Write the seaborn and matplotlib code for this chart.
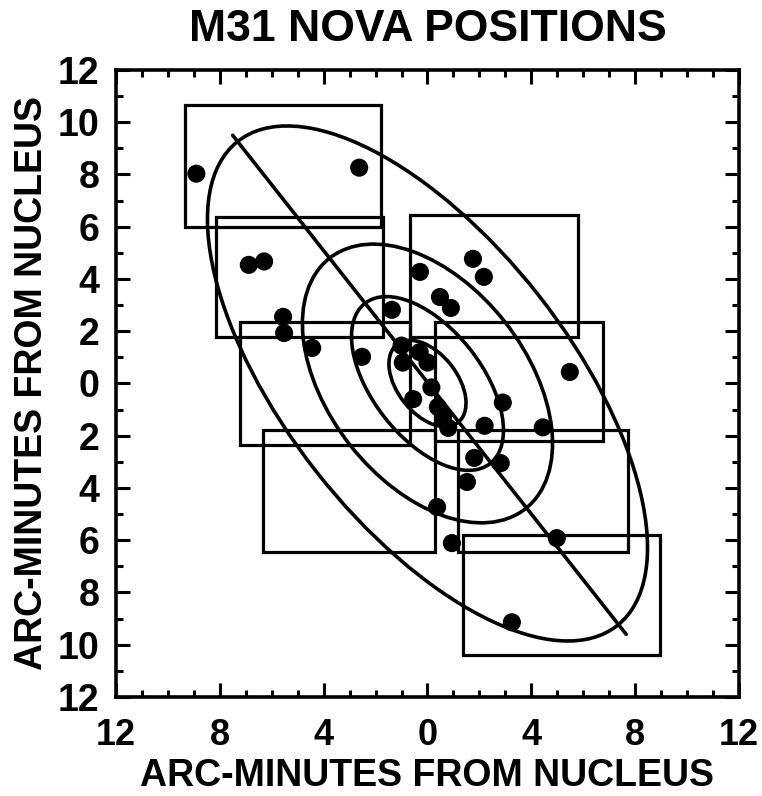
import numpy as np
import pandas as pd
import matplotlib
matplotlib.use("Agg")
import matplotlib.pyplot as plt
import seaborn as sns
from matplotlib.patches import Ellipse, Rectangle
from matplotlib.ticker import MultipleLocator, FuncFormatter

# ---------------- data ----------------
title = "M31 NOVA POSITIONS"
xlabel = "ARC-MINUTES FROM NUCLEUS"
ylabel = "ARC-MINUTES FROM NUCLEUS"

nova_x = [-8.9, -2.63, -6.88, -6.29, -5.56, -5.52, -4.44, -2.52, -1.37,
          -0.29, 1.75, 2.17, 0.48, 0.9, 5.48, 2.9, 2.2, 4.44, 1.8, 2.82,
          1.52, 0.37, 0.94, 4.98, 3.25,
          -1.0, -0.95, -0.3, 0.0, -0.55, 0.15, 0.4, 0.6, 0.8]
nova_y = [8.03, 8.26, 4.54, 4.67, 2.55, 1.93, 1.36, 1.02, 2.82,
          4.27, 4.77, 4.08, 3.31, 2.89, 0.44, -0.73, -1.62, -1.68, -2.85, -3.05,
          -3.77, -4.73, -6.11, -5.92, -9.14,
          1.45, 0.8, 1.2, 0.8, -0.6, -0.15, -0.9, -1.3, -1.7]

field_x0 = [-9.33, -8.13, -0.67, -7.21, 0.29, -6.33, 1.17, 1.37]
field_x1 = [-1.79, -1.71, 5.79, -0.67, 6.75, 0.29, 7.71, 8.94]
field_y0 = [6.0, 1.78, 1.78, -2.36, -2.2, -6.45, -6.45, -10.4]
field_y1 = [10.67, 6.38, 6.45, 2.36, 2.36, -1.78, -1.78, -5.8]

ell_a = [11.8, 6.1, 3.9, 1.9]
ell_b = [5.45, 3.8, 2.1, 1.15]
ell_angle = 128.3

axis_x = [-7.5, 7.65]
axis_y = [9.5, -9.6]

# ---------------- style ----------------
sns.set_theme(style="white")
plt.rcParams['font.family'] = ['Liberation Sans', 'DejaVu Sans']
plt.rcParams['font.weight'] = 'bold'
plt.rcParams['text.color'] = 'black'
plt.rcParams['axes.labelcolor'] = 'black'
plt.rcParams['xtick.color'] = 'black'
plt.rcParams['ytick.color'] = 'black'

fig = plt.figure(figsize=(7.62, 7.96), dpi=100)
ax = fig.add_axes([0.152, 0.1244, 0.818, 0.7877])

df = pd.DataFrame({"x": nova_x, "y": nova_y})

# fields
for x0, x1, y0, y1 in zip(field_x0, field_x1, field_y0, field_y1):
    ax.add_patch(Rectangle((x0, y0), x1 - x0, y1 - y0, fill=False,
                           edgecolor='black', linewidth=2.3, zorder=2))

# ellipses
for a, b in zip(ell_a, ell_b):
    ax.add_patch(Ellipse((0, 0), 2 * a, 2 * b, angle=ell_angle, fill=False,
                         edgecolor='black', linewidth=2.6, zorder=2))

# major axis
sns.lineplot(x=axis_x, y=axis_y, ax=ax, color='black', linewidth=2.6,
             sort=False, estimator=None, zorder=3)

# novae
sns.scatterplot(data=df, x="x", y="y", ax=ax, s=170, color='black',
                edgecolor='none', zorder=4)

ax.set_xlim(-12, 12)
ax.set_ylim(-12, 12)

fmt = FuncFormatter(lambda v, p: f"{abs(int(round(v)))}")
ax.xaxis.set_major_locator(MultipleLocator(4))
ax.xaxis.set_minor_locator(MultipleLocator(1))
ax.yaxis.set_major_locator(MultipleLocator(2))
ax.yaxis.set_minor_locator(MultipleLocator(1))
ax.xaxis.set_major_formatter(fmt)
ax.yaxis.set_major_formatter(fmt)

ax.tick_params(which='both', direction='in', top=True, right=True,
               bottom=True, left=True, color='black', labelcolor='black')
ax.tick_params(which='major', length=10, width=2.2)
ax.tick_params(which='minor', length=5, width=2.2)
ax.tick_params(axis='x', which='major', labelsize=26, pad=15)
ax.tick_params(axis='y', which='major', labelsize=27, pad=12)
for lab in ax.get_xticklabels() + ax.get_yticklabels():
    lab.set_fontweight('bold')

for sp in ax.spines.values():
    sp.set_visible(True)
    sp.set_color('black')
    sp.set_linewidth(2.6)

ax.set_xlabel(xlabel, fontsize=27, fontweight='bold', color='black')
ax.set_ylabel(ylabel, fontsize=27, fontweight='bold', color='black')
ax.xaxis.set_label_coords(0.5, -0.097)
ax.yaxis.set_label_coords(-0.105, 0.5)

fig.text(0.562, 0.963, title, fontsize=32, fontweight='bold',
         ha='center', va='center', color='black')

fig.savefig("out.png", dpi=100, facecolor='white')
